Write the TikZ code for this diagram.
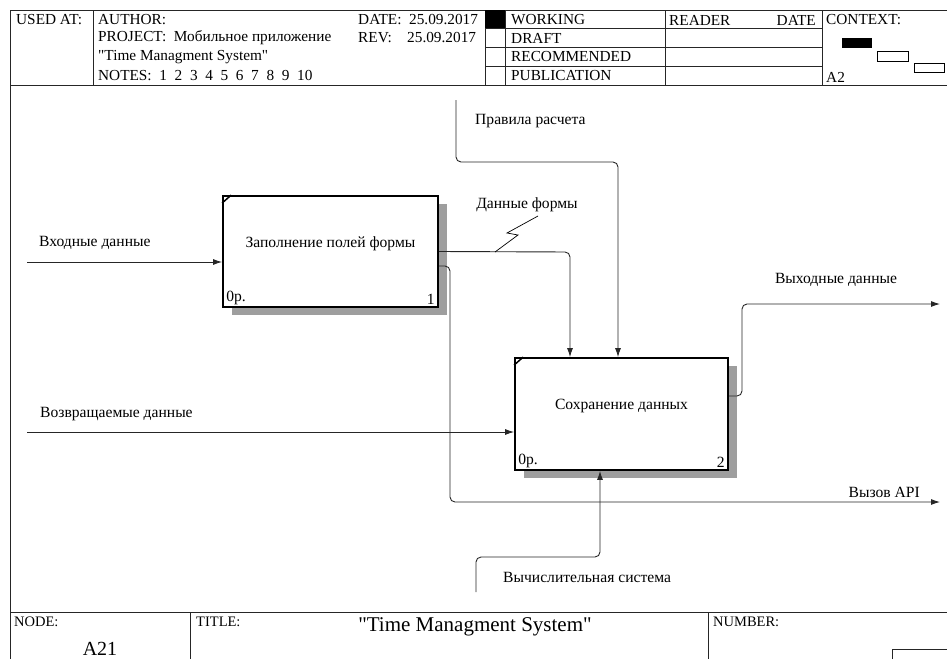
\documentclass[tikz,border=0pt]{standalone}
\usepackage{fontspec}
\setmainfont{Liberation Serif}
\usetikzlibrary{arrows.meta,shadows}

\begin{document}
\begin{tikzpicture}[x=1pt, y=-1pt,
    frame/.style={line width=0.9pt, draw=black!85},
    hdr/.style={anchor=west, inner sep=0pt, font=\fontsize{15.3}{17}\selectfont},
    lbl/.style={inner sep=0pt, font=\fontsize{15.6}{17}\selectfont},
    func/.style={draw, line width=1.8pt, fill=white, inner sep=0pt,
        drop shadow={shadow xshift=9pt, shadow yshift=-8pt, fill=black!38, opacity=1}},
    flow/.style={line width=0.9pt, draw=black!85, rounded corners=5pt, -{Latex[length=9pt,width=6pt]}}]
    \useasboundingbox (0,0) rectangle (947,659);

    % Ramka i shapka
    \draw[frame] (947,10) -- (10,10) -- (10,659);
    \draw[frame] (10,85) -- (947,85);
    \draw[frame] (10,612) -- (947,612);
    \foreach \x in {93,485,505,665,822} \draw[frame] (\x,10) -- (\x,85);
    \foreach \y in {28,47,66} \draw[frame] (485,\y) -- (822,\y);
    \fill (485,10) rectangle (505,28);

    \node[hdr] (usedat) at (16,20) {USED AT:};
    \node[hdr] (author) at (98,20) {AUTHOR:};
    \node[hdr] (project) at (98,38) {PROJECT:\ \ Мобильное приложение};
    \node[hdr] (projname) at (98,57) {\textquotedbl Time Managment System\textquotedbl};
    \node[hdr] (notes) at (98,76) {NOTES:\ \ 1\ \ 2\ \ 3\ \ 4\ \ 5\ \ 6\ \ 7\ \ 8\ \ 9\ \ 10};
    \node[hdr] (date) at (358,20) {DATE:\ \ 25.09.2017};
    \node[hdr] (rev) at (358,38) {REV:\ \ \ \ 25.09.2017};
    \node[hdr] (working) at (511,20) {WORKING};
    \node[hdr] (draft) at (511,38) {DRAFT};
    \node[hdr] (recom) at (511,57) {RECOMMENDED};
    \node[hdr] (publ) at (511,76) {PUBLICATION};
    \node[hdr] (reader) at (669,20) {READER};
    \node[hdr, anchor=east] (rdate) at (816,20) {DATE};
    \node[hdr] (context) at (826,20) {CONTEXT:};
    \node[hdr] (ctxnode) at (826,77) {A2};
    \fill (842,38) rectangle (872,48);
    \draw[line width=0.8pt] (877,51) rectangle (908,61);
    \draw[line width=0.8pt] (914,63) rectangle (944,72);
    \fill (485,10) rectangle (505,28);

    % Podval
    \foreach \x in {190,708} \draw[frame] (\x,612) -- (\x,659);
    \draw[frame] (892,659) -- (892,649) -- (947,649);
    \node[hdr, font=\fontsize{14.5}{16}\selectfont] (nodelab) at (14,622) {NODE:};
    \node[inner sep=0pt, font=\fontsize{20}{22}\selectfont] (nodenum) at (100,649) {A21};
    \node[hdr, font=\fontsize{14.5}{16}\selectfont] (titlelab) at (196,622) {TITLE:};
    \node[inner sep=0pt, font=\fontsize{21}{23}\selectfont] (title) at (475,627) {\textquotedbl Time Managment System\textquotedbl};
    \node[hdr, font=\fontsize{14.5}{16}\selectfont] (numlab) at (713,622) {NUMBER:};

    % Bloki
    \node[func, minimum width=215pt, minimum height=111pt] (b1) at (330.5,251.5) {};
    \node[func, minimum width=213pt, minimum height=112pt] (b2) at (621.5,414) {};
    \draw[line width=1.5pt] ([yshift=-8pt]b1.north west) -- ([xshift=9pt]b1.north west);
    \draw[line width=1.5pt] ([yshift=-8pt]b2.north west) -- ([xshift=9pt]b2.north west);
    \node[lbl] (b1txt) at ([yshift=8pt]b1.center) {Заполнение полей формы};
    \node[lbl] (b2txt) at ([yshift=8pt]b2.center) {Сохранение данных};
    \node[lbl, anchor=south west] (b1op) at ([xshift=4pt,yshift=3pt]b1.south west) {0р.};
    \node[lbl, anchor=south east] (b1no) at ([xshift=-4pt,yshift=3pt]b1.south east) {1};
    \node[lbl, anchor=south west] (b2op) at ([xshift=4pt,yshift=3pt]b2.south west) {0р.};
    \node[lbl, anchor=south east] (b2no) at ([xshift=-4pt,yshift=3pt]b2.south east) {2};

    % Strelki
    \coordinate (in1) at (27,262);
    \coordinate (in2) at (27,432);
    \coordinate (ctl) at (456,100);
    \coordinate (ctlturn) at (618,162);
    \coordinate (dat) at (570,252);
    \coordinate (apiturn) at (450,502);
    \coordinate (apiend) at (940,502);
    \coordinate (outturn) at (742,304);
    \coordinate (outend) at (940,304);
    \coordinate (mech) at (476,592);
    \coordinate (mechturn) at (600,557);

    \draw[flow] (in1) -- (in1 -| b1.west);
    \draw[flow] (in2) -- (in2 -| b2.west);
    \draw[flow] (ctl) |- (ctlturn) -- (ctlturn |- b2.north);
    \draw[flow] (b1.east) -- (dat) -- (dat |- b2.north);
    \draw[flow] ([yshift=-14.5pt]b1.east) -| (apiturn) -- (apiend);
    \draw[flow] ([yshift=18pt]b2.east) -| (outturn) -- (outend);
    \draw[flow] (mech) |- (mechturn) -- (mechturn |- b2.south);

    % Podpisi
    \node[lbl, anchor=west] (inlab1) at (39,243) {Входные данные};
    \node[lbl, anchor=west] (inlab2) at (40,414) {Возвращаемые данные};
    \node[lbl, anchor=west] (ctllab) at (475,121) {Правила расчета};
    \node[lbl] (datlab) at (527,205) {Данные формы};
    \node[lbl] (outlab) at (836,280) {Выходные данные};
    \node[lbl, anchor=east] (apilab) at (920,492) {Вызов API};
    \node[lbl, anchor=west] (mechlab) at (503,577) {Вычислительная система};
    \draw[line width=0.7pt] (495,252) -- ++(23,-17) -- ++(-11,-2) -- ++(31,-17);
\end{tikzpicture}
\end{document}
